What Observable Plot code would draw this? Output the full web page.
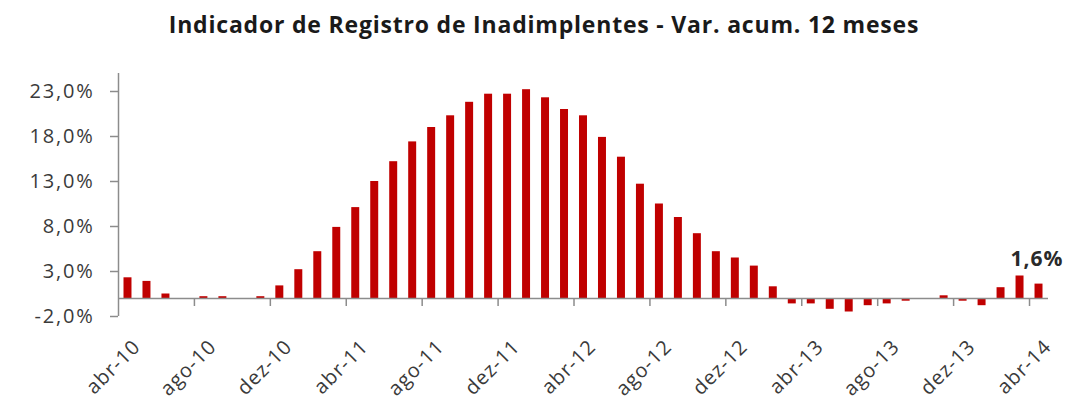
<!DOCTYPE html>
<html>
<head>
<meta charset="utf-8">
<script src="https://cdn.jsdelivr.net/npm/d3@7"></script>
<script src="https://cdn.jsdelivr.net/npm/@observablehq/plot@0.6"></script>
<style>
  body { margin: 0; background: #fff; }
  #title {
    width: 1044px; height: 44px; padding: 11px 0 0 22px;
    text-align: center; font: bold 23px "Open Sans", sans-serif; line-height: 1.2;
    letter-spacing: 0.8px; color: #1a1a1a; white-space: nowrap;
  }
  #chart svg text { letter-spacing: 1px; }
  #chart svg g[aria-label="y-axis tick label"] text { letter-spacing: 1.8px; }
</style>
</head>
<body>
<div id="title">Indicador de Registro de Inadimplentes - Var. acum. 12 meses</div>
<div id="chart"></div>
<script>
const months = [
  "abr-10","mai-10","jun-10","jul-10","ago-10","set-10","out-10","nov-10","dez-10",
  "jan-11","fev-11","mar-11","abr-11","mai-11","jun-11","jul-11","ago-11","set-11","out-11","nov-11","dez-11",
  "jan-12","fev-12","mar-12","abr-12","mai-12","jun-12","jul-12","ago-12","set-12","out-12","nov-12","dez-12",
  "jan-13","fev-13","mar-13","abr-13","mai-13","jun-13","jul-13","ago-13","set-13","out-13","nov-13","dez-13",
  "jan-14","fev-14","mar-14","abr-14"
];
const values = [
  2.3, 1.9, 0.5, 0.0, 0.2, 0.2, 0.0, 0.2, 1.4,
  3.2, 5.2, 7.9, 10.1, 13.0, 15.2, 17.4, 19.0, 20.3, 21.8, 22.7, 22.7,
  23.2, 22.3, 21.0, 20.3, 17.9, 15.7, 12.7, 10.5, 9.0, 7.2, 5.2, 4.5,
  3.6, 1.3, -0.6, -0.6, -1.2, -1.5, -0.8, -0.6, -0.3, 0.0, 0.3, -0.3,
  -0.8, 1.2, 2.5, 1.6
];
const xTickLabels = ["abr-10","ago-10","dez-10","abr-11","ago-11","dez-11","abr-12","ago-12","dez-12","abr-13","ago-13","dez-13","abr-14"];
const yTicks = [-2, 3, 8, 13, 18, 23];
const yDomain = [-2, 25];
const labelledMonth = "abr-14";

const data = months.map((m, i) => ({i, m, v: values[i]}));
const labelPos = xTickLabels.map(m => months.indexOf(m) + 0.5);
const boundaryTicks = xTickLabels.map(m => months.indexOf(m)).filter(i => i > 0);
const fmt = v => v.toFixed(1).replace(".", ",") + "%";
const axisColor = "#8c8c8c";

const chart = Plot.plot({
  width: 1066, height: 348,
  marginTop: 18, marginBottom: 87, marginLeft: 118, marginRight: 18,
  x: {type: "linear", domain: [0, months.length], axis: null},
  y: {domain: yDomain, axis: null},
  style: {fontFamily: "'Open Sans', sans-serif", color: "#3a3a3a", background: "#fff"},
  marks: [
    Plot.rectY(data, {x: "i", interval: 1, y: "v", fill: "#C00000", insetLeft: 5.5, insetRight: 5.5}),
    Plot.ruleY([0], {stroke: axisColor, strokeWidth: 1.5}),
    Plot.ruleX([0], {stroke: axisColor, strokeWidth: 1.5}),
    Plot.ruleX(boundaryTicks, {x: d => d, y1: 0, y2: 0, insetBottom: -8, stroke: axisColor, strokeWidth: 1.5}),
    Plot.axisY({ticks: yTicks, label: null, tickSize: 8, tickPadding: 16, tickFormat: fmt, fontSize: 20, stroke: axisColor, strokeWidth: 1.5, fill: "#3a3a3a"}),
    Plot.axisX({ticks: labelPos, label: null, tickSize: 0, tickPadding: 27, tickRotate: -45, fontSize: 20, dx: 9,
      tickFormat: v => months[Math.round(v - 0.5)], fill: "#3a3a3a"}),
    Plot.text(data.filter(d => d.m === labelledMonth), {
      x: d => d.i + 0.5, y: "v", text: d => fmt(d.v).replace(",0", ","),
      fontWeight: "bold", fontSize: 21, lineAnchor: "bottom", dy: -18, dx: -2, fill: "#2a2a2a"
    })
  ]
});
document.getElementById("chart").appendChild(chart);
</script>
</body>
</html>
